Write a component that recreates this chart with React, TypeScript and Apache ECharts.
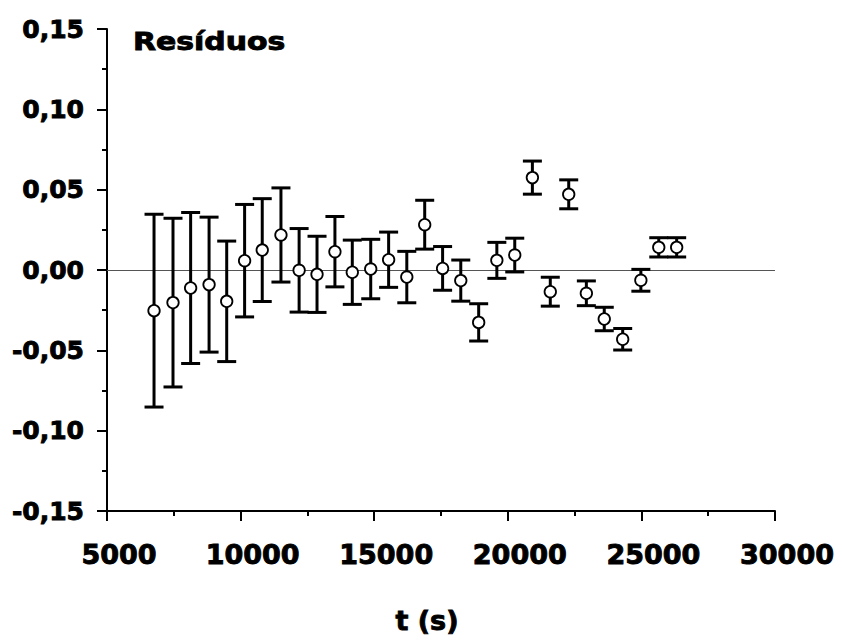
import React, { useEffect, useRef } from "react";
import * as echarts from "echarts";

const times = [6760, 7470, 8130, 8820, 9480, 10150, 10810, 11510, 12190, 12860, 13530, 14180, 14870, 15540, 16220, 16890, 17560, 18240, 18910, 19590, 20260, 20920, 21590, 22280, 22940, 23610, 24300, 24980, 25650, 26320];
const residuals = [-0.0253, -0.0203, -0.0112, -0.0091, -0.0195, 0.0058, 0.0124, 0.0218, -0.0002, -0.0027, 0.0114, -0.0014, 0.0006, 0.0064, -0.0044, 0.0282, 0.001, -0.0066, -0.0326, 0.006, 0.0093, 0.0575, -0.0135, 0.0471, -0.0145, -0.0305, -0.0431, -0.0064, 0.0141, 0.0141];
const errors = [0.06, 0.0525, 0.047, 0.042, 0.0375, 0.035, 0.032, 0.0293, 0.026, 0.0237, 0.0219, 0.02, 0.0185, 0.0172, 0.016, 0.0152, 0.0136, 0.0128, 0.0116, 0.0112, 0.0105, 0.0103, 0.009, 0.009, 0.0077, 0.0073, 0.0067, 0.0068, 0.006, 0.006];

const xTitle = "t (s)";
const panelLabel = "Resíduos";

const FONT = "DejaVu Sans";
const heavy = { textBorderColor: "#000", textBorderWidth: 0.9 };

export default function App() {
  const ref = useRef<HTMLDivElement>(null);
  useEffect(() => {
    if (!ref.current) return;
    const chart = echarts.init(ref.current, null, { renderer: "svg" });
    const points = times.map((t, i) => [t, residuals[i]]);
    const bars = times.map((t, i) => [t, residuals[i] - errors[i], residuals[i] + errors[i]]);
    const fmtY = (v: number) => {
      const r = Math.round(v * 100) / 100;
      return (Math.abs(r) < 1e-9 ? 0 : r).toFixed(2).replace(".", ",");
    };
    chart.setOption({
      animation: false,
      backgroundColor: "#ffffff",
      grid: { left: 107, right: 67, top: 29, bottom: 129, containLabel: false },
      xAxis: {
        type: "value",
        min: 5000,
        max: 30000,
        interval: 5000,
        name: xTitle,
        nameLocation: "middle",
        nameGap: 96,
        nameTextStyle: { fontFamily: FONT, fontWeight: "bold", fontSize: 27, color: "#000", padding: [0, 28, 0, 0], ...heavy },
        axisLine: { show: true, onZero: false, lineStyle: { color: "#000", width: 2 } },
        axisTick: { show: true, inside: false, length: 10, lineStyle: { color: "#000", width: 2 } },
        minorTick: { show: true, splitNumber: 2, length: 5, lineStyle: { color: "#000", width: 2 } },
        axisLabel: { margin: 30, fontFamily: FONT, fontWeight: "bold", fontSize: 27, color: "#000", padding: [0, 0, 0, 24], formatter: (v: number) => String(v), ...heavy },
        splitLine: { show: false },
      },
      yAxis: {
        type: "value",
        min: -0.15,
        max: 0.15,
        interval: 0.05,
        axisLine: { show: true, onZero: false, lineStyle: { color: "#000", width: 2 } },
        axisTick: { show: true, inside: false, length: 10, lineStyle: { color: "#000", width: 2 } },
        minorTick: { show: true, splitNumber: 2, length: 5, lineStyle: { color: "#000", width: 2 } },
        axisLabel: { margin: 23, fontFamily: FONT, fontWeight: "bold", fontSize: 25, color: "#000", formatter: fmtY, ...heavy },
        splitLine: { show: false },
      },
      graphic: [
        {
          type: "text",
          x: 133,
          y: 29,
          scaleX: 1.22,
          style: { text: panelLabel, fontFamily: FONT, fontWeight: "bold", fontSize: 24.5, fill: "#000", textVerticalAlign: "top", stroke: "#000", lineWidth: 0.9 },
        },
      ],
      series: [
        {
          type: "custom",
          z: 3,
          data: bars,
          renderItem: (params: any, api: any) => {
            const x = api.value(0);
            const lo = api.coord([x, api.value(1)]);
            const hi = api.coord([x, api.value(2)]);
            const hw = 9.5;
            const style = { stroke: "#000", lineWidth: 3 };
            return {
              type: "group",
              children: [
                { type: "line", shape: { x1: lo[0], y1: lo[1], x2: hi[0], y2: hi[1] }, style },
                { type: "line", shape: { x1: lo[0] - hw, y1: lo[1], x2: lo[0] + hw, y2: lo[1] }, style },
                { type: "line", shape: { x1: hi[0] - hw, y1: hi[1], x2: hi[0] + hw, y2: hi[1] }, style },
              ],
            };
          },
        },
        {
          type: "scatter",
          z: 5,
          data: points,
          symbol: "circle",
          symbolSize: 11.5,
          itemStyle: { color: "#fff", borderColor: "#000", borderWidth: 1.8, opacity: 1 },
          markLine: {
            silent: true,
            symbol: "none",
            label: { show: false },
            lineStyle: { color: "#555", width: 1, type: "solid" },
            data: [{ yAxis: 0 }],
            z: 1,
          },
        },
      ],
    });
    return () => chart.dispose();
  }, []);
  return <div ref={ref} style={{ position: "absolute", left: 0, top: 0, width: 842, height: 640 }} />;
}
